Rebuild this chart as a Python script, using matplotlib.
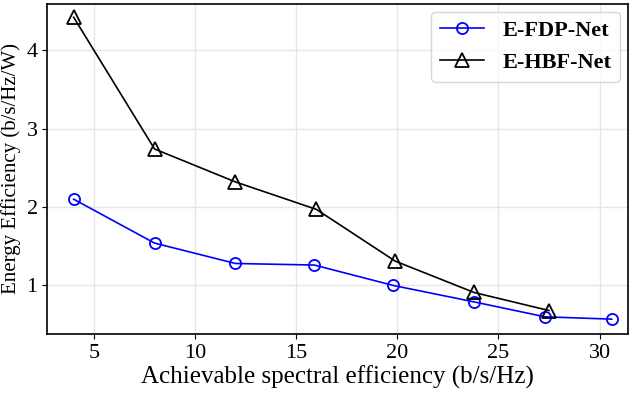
import matplotlib
matplotlib.use("Agg")
import matplotlib.pyplot as plt

plt.rcParams['font.family'] = ['Liberation Serif', 'DejaVu Serif']
plt.rcParams['mathtext.fontset'] = 'stix'

# data
fdp_se = [4.0, 8.0, 12.0, 15.9, 19.8, 23.8, 27.3, 30.6]
fdp_ee = [2.10, 1.54, 1.28, 1.26, 1.00, 0.79, 0.60, 0.57]
hbf_se = [4.0, 8.0, 12.0, 16.0, 19.9, 23.8, 27.5]
hbf_ee = [4.42, 2.74, 2.32, 1.97, 1.31, 0.91, 0.68]

fig, ax = plt.subplots(figsize=(6.4, 3.93), dpi=100)

ax.plot(fdp_se, fdp_ee, color='blue', marker='o', markersize=8,
        markerfacecolor='none', markeredgewidth=1.3, linewidth=1.2, label='E-FDP-Net')
ax.plot(hbf_se, hbf_ee, color='black', marker='^', markersize=9.5,
        markerfacecolor='none', markeredgewidth=1.3, linewidth=1.2, label='E-HBF-Net')

ax.set_xlabel('Achievable spectral efficiency (b/s/Hz)', fontsize=18, labelpad=2)
ax.set_ylabel('Energy Efficiency (b/s/Hz/W)', fontsize=15, labelpad=4)
ax.set_xticks([5, 10, 15, 20, 25, 30])
ax.set_yticks([1, 2, 3, 4])
ax.tick_params(labelsize=16)
ax.set_xlim(2.7, 31.4)
ax.set_ylim(0.38, 4.59)
ax.grid(True, color='#e6e6e6', linewidth=1)
for s in ax.spines.values():
    s.set_linewidth(1.2)

ax.legend(loc='upper right', prop={'weight': 'bold', 'size': 16},
          borderaxespad=0.35, handlelength=2.0)

plt.subplots_adjust(left=0.074, right=0.981, top=0.99, bottom=0.15)
plt.savefig('out.png')
